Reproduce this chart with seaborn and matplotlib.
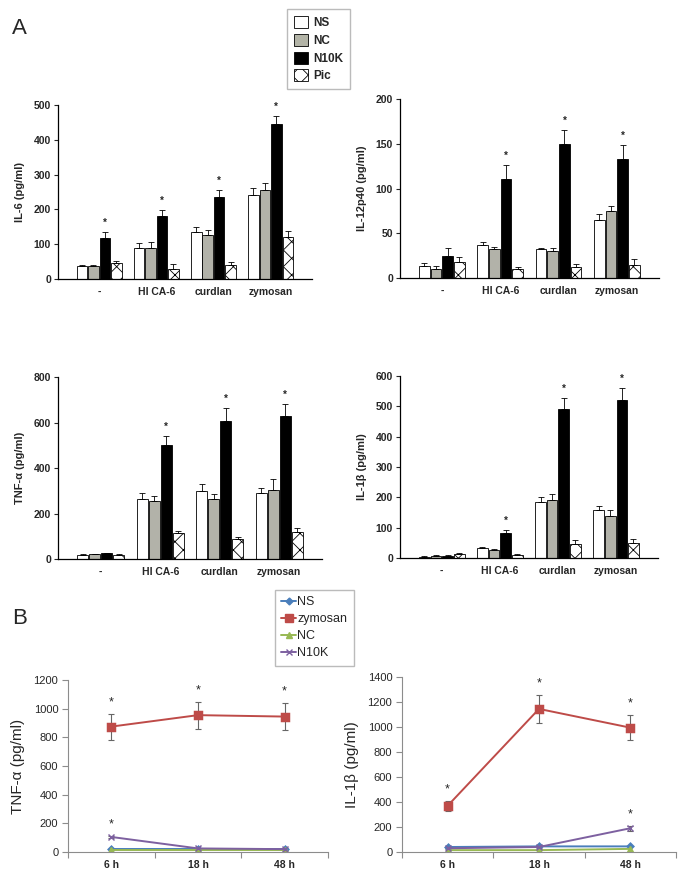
import numpy as np
import pandas as pd
import matplotlib
matplotlib.use('Agg')
from matplotlib import pyplot as plt
from matplotlib.patches import Patch
from matplotlib.lines import Line2D
import seaborn as sns

# ---- panel A data (bar charts) ----
stimuli = ['-', 'HI CA-6', 'curdlan', 'zymosan']
groups = ['NS', 'NC', 'N10K', 'Pic']

il6_mean = {'NS': [37, 90, 135, 240], 'NC': [38, 90, 125, 257],
            'N10K': [117, 180, 235, 445], 'Pic': [47, 30, 40, 120]}
il6_err = {'NS': [2, 12, 15, 20], 'NC': [3, 15, 17, 18],
           'N10K': [18, 18, 20, 22], 'Pic': [5, 12, 10, 18]}
il6_star = [True, True, True, True]

il12_mean = {'NS': [13, 37, 32, 65], 'NC': [10, 32, 30, 75],
             'N10K': [25, 111, 150, 133], 'Pic': [18, 10, 12, 15]}
il12_err = {'NS': [4, 3, 2, 7], 'NC': [3, 3, 3, 5],
            'N10K': [8, 15, 16, 16], 'Pic': [6, 2, 4, 6]}
il12_star = [False, True, True, True]

tnf_mean = {'NS': [18, 265, 300, 292], 'NC': [22, 255, 262, 305],
            'N10K': [25, 500, 607, 630], 'Pic': [18, 115, 88, 118]}
tnf_err = {'NS': [2, 25, 28, 22], 'NC': [2, 22, 22, 45],
           'N10K': [2, 42, 55, 50], 'Pic': [2, 10, 8, 18]}
tnf_star = [False, True, True, True]

il1_mean = {'NS': [4, 33, 186, 158], 'NC': [8, 28, 192, 137],
            'N10K': [8, 82, 492, 522], 'Pic': [13, 11, 45, 50]}
il1_err = {'NS': [2, 3, 15, 12], 'NC': [2, 3, 18, 23],
           'N10K': [2, 12, 37, 40], 'Pic': [3, 3, 14, 12]}
il1_star = [False, True, True, True]

bar_colors = {'NS': 'white', 'NC': '#b3b4a7', 'N10K': 'black', 'Pic': 'white'}

# ---- panel B data (time course) ----
times = ['6 h', '18 h', '48 h']
series = ['NS', 'zymosan', 'NC', 'N10K']
tnf_b = {'NS': [20, 20, 20], 'zymosan': [875, 955, 945],
         'NC': [15, 15, 15], 'N10K': [105, 25, 20]}
tnf_b_err = {'NS': [3, 3, 3], 'zymosan': [90, 95, 95],
             'NC': [3, 3, 3], 'N10K': [10, 5, 5]}
tnf_b_star = {'zymosan': [True, True, True], 'N10K': [True, False, False]}

il1_b = {'NS': [40, 45, 45], 'zymosan': [370, 1145, 995],
         'NC': [15, 15, 25], 'N10K': [30, 40, 190]}
il1_b_err = {'NS': [5, 5, 5], 'zymosan': [40, 115, 100],
             'NC': [3, 3, 3], 'N10K': [5, 5, 20]}
il1_b_star = {'zymosan': [True, True, True], 'N10K': [False, False, True]}

line_colors = {'NS': '#4a7ebb', 'zymosan': '#be4b48', 'NC': '#98b954', 'N10K': '#7d60a0'}
line_markers = {'NS': 'D', 'zymosan': 's', 'NC': '^', 'N10K': 'x'}
marker_sizes = {'NS': 3.5, 'zymosan': 5.5, 'NC': 4, 'N10K': 4}

sns.set_theme(style='white')
plt.rcParams['font.family'] = ['Liberation Sans', 'DejaVu Sans']
plt.rcParams['hatch.linewidth'] = 0.6

fig = plt.figure(figsize=(6.86, 8.77), dpi=100)


def bar_panel(rect, means, errs, ymax, ystep, ylabel, stars):
    ax = fig.add_axes(rect)
    rows = []
    for g in groups:
        for s, m in zip(stimuli, means[g]):
            rows.append({'stim': s, 'group': g, 'val': m})
    df = pd.DataFrame(rows)
    sns.barplot(data=df, x='stim', y='val', hue='group', order=stimuli,
                hue_order=groups, palette=bar_colors, edgecolor='black',
                linewidth=0.6, width=0.8, gap=0.08, errorbar=None,
                legend=False, ax=ax)
    for g, cont in zip(groups, ax.containers):
        xs = [p.get_x() + p.get_width() / 2 for p in cont.patches]
        hs = [p.get_height() for p in cont.patches]
        if g == 'Pic':
            for p in cont.patches:
                p.set_hatch('xx')
        ax.errorbar(xs, hs, yerr=[np.zeros(len(hs)), errs[g]], fmt='none',
                    ecolor='black', elinewidth=0.6, capsize=2, capthick=0.6)
        if g == 'N10K':
            for x, h, e, st in zip(xs, hs, errs[g], stars):
                if st:
                    ax.annotate('*', (x, h + e), xytext=(0, 3),
                                textcoords='offset points', ha='center',
                                va='bottom', fontsize=7, fontweight='bold')
    ax.set_xlim(-0.72, 3.72)
    ax.set_ylim(0, ymax)
    ax.set_yticks(np.arange(0, ymax + 1, ystep))
    ax.set_xlabel('')
    ax.set_ylabel(ylabel, fontsize=8, fontweight='bold', labelpad=6)
    sns.despine(ax=ax)
    for sp in ['left', 'bottom']:
        ax.spines[sp].set_color('black')
        ax.spines[sp].set_linewidth(0.9)
    ax.tick_params(axis='x', length=0, labelsize=7.5, pad=6)
    ax.tick_params(axis='y', length=3, width=0.8, direction='out', left=True,
                   labelsize=7.5, pad=2)
    for t in ax.get_xticklabels() + ax.get_yticklabels():
        t.set_fontweight('bold')
    return ax


def line_panel(rect, vals, errs, stars, ymax, ystep, ylabel):
    ax = fig.add_axes(rect)
    rows = []
    for s in series:
        for t, v in zip(times, vals[s]):
            rows.append({'time': t, 'series': s, 'val': v})
    df = pd.DataFrame(rows)
    sns.pointplot(data=df, x='time', y='val', hue='series', order=times,
                  hue_order=series, palette=line_colors,
                  markers=[line_markers[s] for s in series], errorbar=None,
                  markersize=4, linewidth=1.4, legend=False, ax=ax)
    for s, ln in zip(series, ax.lines[:len(series)]):
        ln.set_markersize(marker_sizes[s])
        xs = ln.get_xdata()
        ys = ln.get_ydata()
        if s in ('zymosan', 'N10K'):
            ax.errorbar(xs, ys, yerr=errs[s], fmt='none', ecolor='#666666',
                        elinewidth=0.8, capsize=2, capthick=0.8, zorder=1)
            for x, y, e, st in zip(xs, ys, errs[s], stars[s]):
                if st:
                    ax.annotate('*', (x, y + e), xytext=(0, 4),
                                textcoords='offset points', ha='center',
                                va='bottom', fontsize=9)
    ax.set_xlim(-0.5, len(times) - 0.5)
    ax.set_ylim(0, ymax)
    ax.set_yticks(np.arange(0, ymax + 1, ystep))
    ax.set_xticks(np.arange(-0.5, len(times)), minor=True)
    ax.set_xlabel('')
    ax.set_ylabel(ylabel, fontsize=11, labelpad=6)
    sns.despine(ax=ax)
    for sp in ['left', 'bottom']:
        ax.spines[sp].set_color('#8c8c8c')
        ax.spines[sp].set_linewidth(0.8)
    ax.tick_params(axis='x', which='major', length=0, labelsize=7.5, pad=6)
    ax.tick_params(axis='x', which='minor', length=4, width=0.8,
                   color='#8c8c8c', direction='out', bottom=True)
    ax.tick_params(axis='y', length=4, width=0.8, color='#8c8c8c',
                   direction='out', left=True, labelsize=8, pad=3)
    for t in ax.get_xticklabels():
        t.set_fontweight('bold')
    return ax


bar_panel([0.0845, 0.6819, 0.370, 0.1984], il6_mean, il6_err, 500, 100,
          'IL-6 (pg/ml)', il6_star)
bar_panel([0.583, 0.683, 0.3776, 0.204], il12_mean, il12_err, 200, 50,
          'IL-12p40 (pg/ml)', il12_star)
bar_panel([0.0845, 0.3626, 0.385, 0.2075], tnf_mean, tnf_err, 800, 200,
          'TNF-α (pg/ml)', tnf_star)
bar_panel([0.583, 0.3637, 0.376, 0.2075], il1_mean, il1_err, 600, 100,
          'IL-1β (pg/ml)', il1_star)

line_panel([0.0991, 0.0285, 0.379, 0.1961], tnf_b, tnf_b_err, tnf_b_star,
           1200, 200, 'TNF-α (pg/ml)')
line_panel([0.586, 0.0285, 0.3994, 0.1995], il1_b, il1_b_err, il1_b_star,
           1400, 200, 'IL-1β (pg/ml)')

# legend A
hatches = {'NS': None, 'NC': None, 'N10K': None, 'Pic': 'xx'}
handles_a = [Patch(facecolor=bar_colors[g], edgecolor='black', linewidth=0.6,
                   hatch=hatches[g]) for g in groups]
fig.legend(handles_a, groups, loc='upper left',
           bbox_to_anchor=(287 / 686, 1 - 9 / 877), frameon=True,
           fancybox=False, edgecolor='#bbbbbb', framealpha=1,
           prop={'weight': 'bold', 'size': 8.5}, handlelength=1.2,
           handleheight=1.2, labelspacing=0.4, handletextpad=0.4,
           borderpad=0.6, borderaxespad=0)

# legend B
handles_b = [Line2D([0], [0], color=line_colors[s], marker=line_markers[s],
                    markersize=marker_sizes[s], linewidth=1.4) for s in series]
fig.legend(handles_b, series, loc='upper left',
           bbox_to_anchor=(275 / 686, 1 - 590 / 877), frameon=True,
           fancybox=False, edgecolor='#bbbbbb', framealpha=1,
           prop={'size': 9}, handlelength=1.2, labelspacing=0.4,
           handletextpad=0.1, borderpad=0.5, borderaxespad=0)

fig.text(12 / 686, 1 - 34 / 877, 'A', fontsize=16)
fig.text(12 / 686, 1 - 624 / 877, 'B', fontsize=16)

fig.savefig('out.png', dpi=100)
